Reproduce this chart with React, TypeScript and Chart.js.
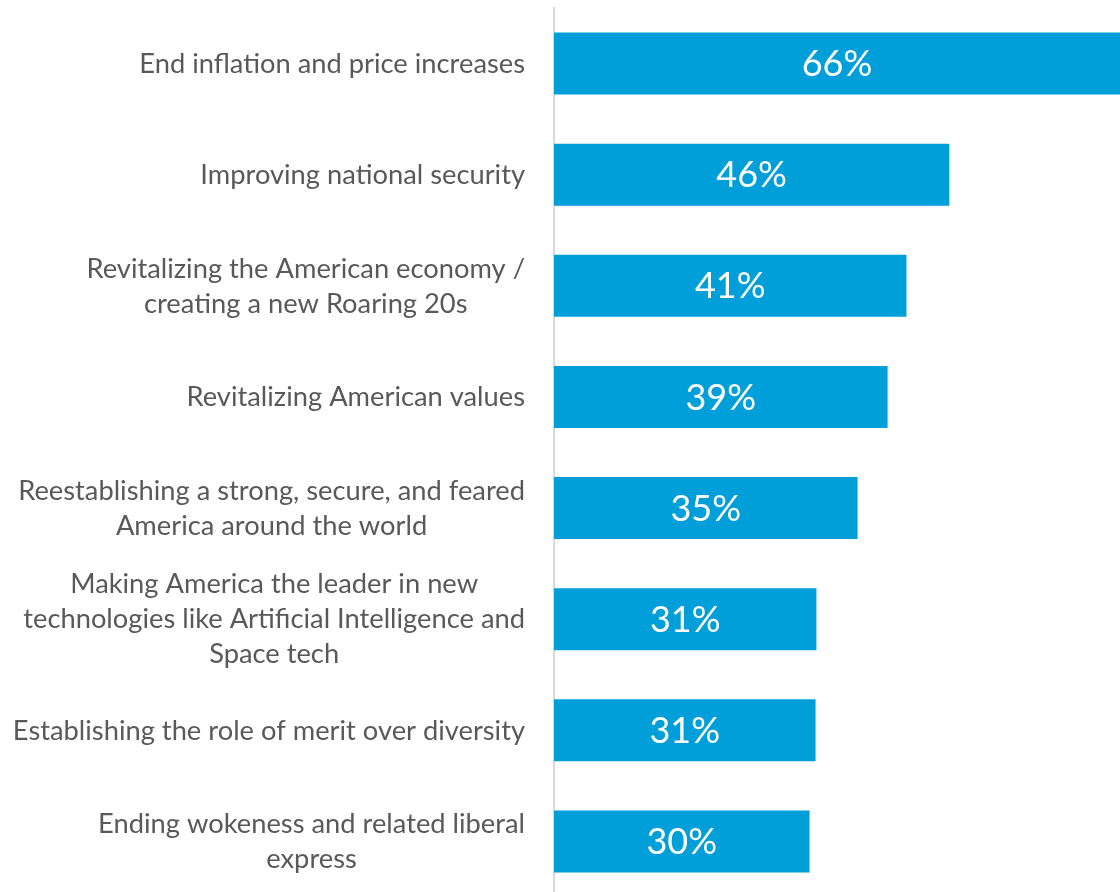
import React, { useEffect, useRef } from "react";
import { Chart, registerables } from "chart.js";

Chart.register(...registerables);

const categories: string[][] = [
  ["End inflation and price increases"],
  ["Improving national security"],
  ["Revitalizing the American economy /", "creating a new Roaring 20s"],
  ["Revitalizing American values"],
  ["Reestablishing a strong, secure, and feared", "America around the world"],
  ["Making America the leader in new", "technologies like Artificial Intelligence and", "Space tech"],
  ["Establishing the role of merit over diversity"],
  ["Ending wokeness and related liberal", "express"],
];
const values: number[] = [66, 46.1, 41.1, 38.9, 35.4, 30.6, 30.5, 29.8];
const valueLabels: string[] = ["66%", "46%", "41%", "39%", "35%", "31%", "31%", "30%"];

const FONT = "Lato";
const BAR_COLOR = "#009FD9";
const LABEL_COLOR = "#595959";

export default function App() {
  const ref = useRef<HTMLCanvasElement | null>(null);

  useEffect(() => {
    document.documentElement.style.overflow = "hidden";
    document.body.style.overflow = "hidden";
    const canvas = ref.current!;
    const labelsPlugin = {
      id: "customLabels",
      afterDraw(chart: any) {
        const ctx = chart.ctx;
        const y = chart.scales.y;
        ctx.save();
        ctx.font = `27.3px ${FONT}`;
        ctx.fillStyle = LABEL_COLOR;
        ctx.textAlign = "center";
        ctx.textBaseline = "middle";
        const rightEdge = y.right - 29;
        const lh = 35;
        categories.forEach((lines, i) => {
          const cy = y.getPixelForTick(i) + 0.5;
          const w = Math.max(...lines.map((l) => ctx.measureText(l).width));
          const cx = rightEdge - w / 2;
          lines.forEach((l, j) => {
            ctx.fillText(l, cx, cy + (j - (lines.length - 1) / 2) * lh);
          });
        });
        // value labels
        ctx.font = `36px ${FONT}`;
        ctx.fillStyle = "#FFFFFF";
        const meta = chart.getDatasetMeta(0);
        meta.data.forEach((bar: any, i: number) => {
          const cx = (bar.base + bar.x) / 2;
          ctx.fillText(valueLabels[i], cx, bar.y + 1);
        });
        ctx.restore();
      },
    };

    const chart = new Chart(canvas, {
      type: "bar",
      data: {
        labels: categories.map((c) => c.join(" ")),
        datasets: [
          {
            data: values,
            backgroundColor: BAR_COLOR,
            borderWidth: 0,
            categoryPercentage: 1,
            barPercentage: 0.557,
          },
        ],
      },
      options: {
        indexAxis: "y",
        animation: false,
        responsive: false,
        maintainAspectRatio: false,
        layout: { padding: { top: 8, bottom: 0, left: 0, right: 0 } },
        plugins: {
          legend: { display: false },
          tooltip: { enabled: false },
        },
        scales: {
          x: {
            display: false,
            min: 0,
            max: 66,
          },
          y: {
            grid: { display: false, drawTicks: false },
            border: { display: true, color: "#D9D9D9", width: 2 },
            ticks: { display: false },
            afterFit(scale: any) {
              scale.width = 554;
            },
          },
        },
      },
      plugins: [labelsPlugin],
    });
    return () => chart.destroy();
  }, []);

  return (
    <div style={{ position: "fixed", left: 0, top: 0, width: 1120, height: 897 }}>
      <canvas ref={ref} width={1120} height={897} style={{ display: "block" }} />
    </div>
  );
}
